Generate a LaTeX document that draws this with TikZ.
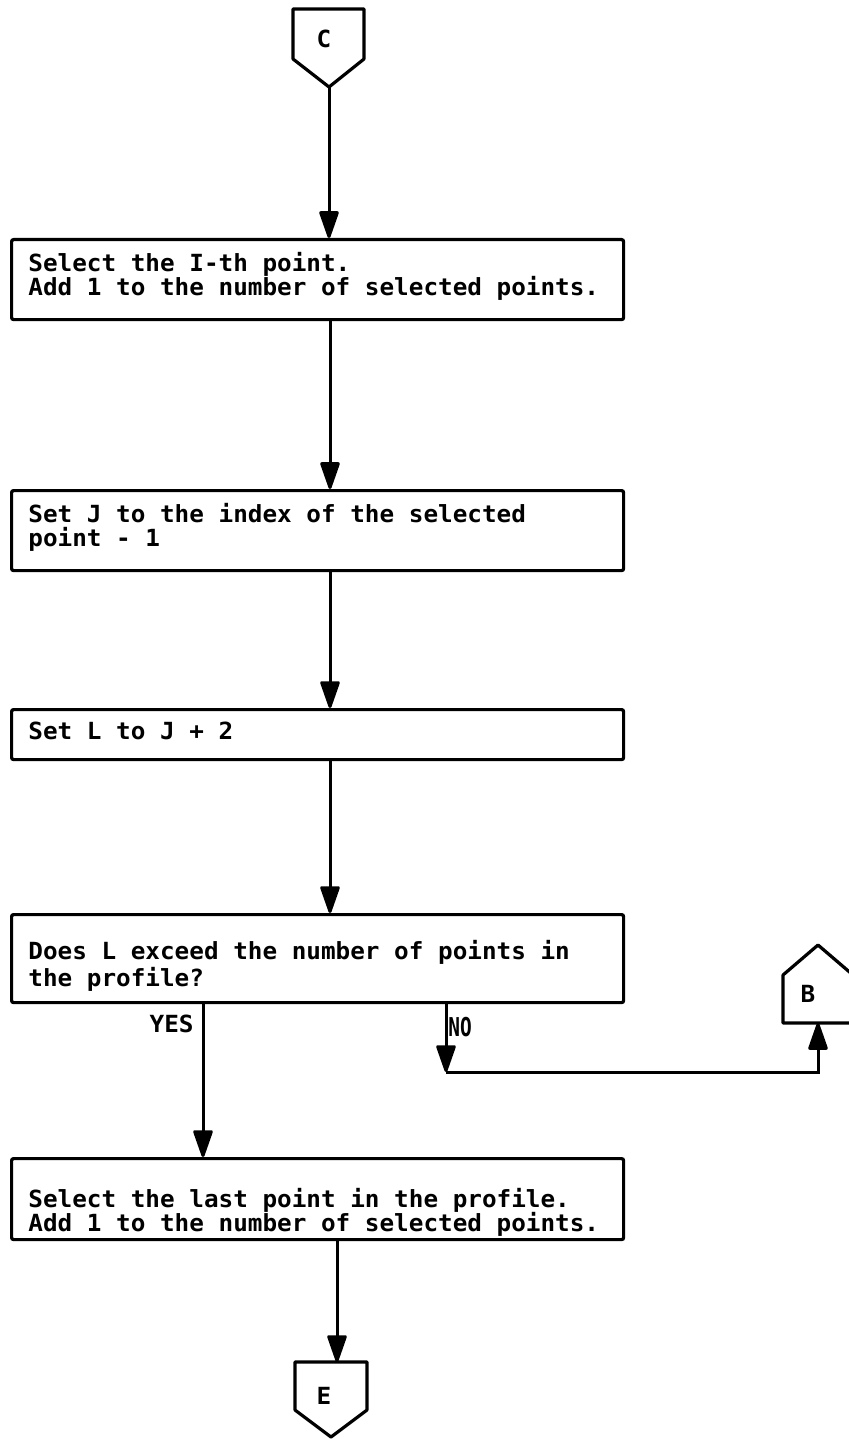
\documentclass[tikz,border=0pt]{standalone}
\usepackage{fontspec}
\newfontfamily\flowfont{DejaVu Sans Mono}[FakeStretch=1.03]
\usetikzlibrary{arrows.meta}

\begin{document}
\lineskiplimit=-20pt
\begin{tikzpicture}[x=0.5pt,y=-0.5pt,
  txt/.style={font=\flowfont\bfseries\fontsize{11.8pt}{12pt}\selectfont,
    inner sep=0pt, align=left, anchor=north west},
  lbl/.style={font=\flowfont\bfseries\fontsize{11.8pt}{12pt}\selectfont, inner sep=0pt},
  procbox/.style={draw, line width=1.6pt, rounded corners=1pt, inner sep=0pt,
    minimum width=306pt, anchor=north west},
  conn/.style={draw, line width=1.6pt, line join=round},
  flow/.style={line width=1.5pt, -{Triangle[length=15pt,width=10pt,round]}},
]
\useasboundingbox (0,0) rectangle (848,1439);

% off-page connector C (entry)
\draw[conn] (293,9) -- (364,9) -- (364,59) -- (329,87) -- (293,59) -- cycle;
\node[lbl] (C) at (324,39) {C};
\coordinate (Ctip) at (329,87);

% process boxes
\node[procbox, minimum height=40pt] (b1) at (10,238) {};
\node[procbox, minimum height=40pt] (b2) at (10,489) {};
\node[procbox, minimum height=25pt] (b3) at (10,708) {};
\node[procbox, minimum height=44pt] (b4) at (10,913) {};
\node[procbox, minimum height=40.5pt] (b5) at (10,1157) {};

% box texts
\node[txt] (t1) at (28,252)
  {Select the I-th point.\\Add 1 to the number of selected points.};
\node[txt] (t2) at (28,503)
  {Set J to the index of the selected\\point - 1};
\node[txt] (t3) at (28,722)
  {Set L to J + 2};
\node[txt, font=\flowfont\bfseries\fontsize{11.8pt}{13.5pt}\selectfont] (t4) at (28,940)
  {Does L exceed the number of points in\\the profile?};
\node[txt] (t5) at (28,1188)
  {Select the last point in the profile.\\Add 1 to the number of selected points.};

% off-page connector B (return)
\draw[conn] (783,1023) -- (853,1023) -- (853,975) -- (818,945) -- (783,975) -- cycle;
\node[lbl] (B) at (808,994) {B};
\coordinate (Bbot) at (818,1023);

% off-page connector E (exit)
\draw[conn] (295,1362) -- (367,1362) -- (367,1410) -- (331,1437) -- (295,1410) -- cycle;
\node[lbl] (E) at (324,1396) {E};
\coordinate (Etop) at (337,1362);

% vertical guides for the connectors
\coordinate (spine) at (330,0);
\coordinate (spineE) at (337,0);
\coordinate (yes) at (203,0);
\coordinate (no) at (446,0);
\coordinate (turn) at (446,1072);

% main flow
\draw[flow] (Ctip) -- (Ctip |- b1.north);
\draw[flow] (spine |- b1.south) -- (spine |- b2.north);
\draw[flow] (spine |- b2.south) -- (spine |- b3.north);
\draw[flow] (spine |- b3.south) -- (spine |- b4.north);
\draw[flow] (yes |- b4.south) -- (yes |- b5.north);
\draw[flow] (spineE |- b5.south) -- (Etop);

% NO branch to B
\draw[flow] (no |- b4.south) -- (turn);
\draw[flow] (turn) -- (turn -| Bbot) -- (Bbot);

% branch labels
\node[lbl, anchor=east] (yeslbl) at (194,1024) {YES};
\node[lbl, anchor=west, xscale=0.8, yscale=1.1] (nolbl) at (448,1027) {NO};
\end{tikzpicture}
\end{document}
